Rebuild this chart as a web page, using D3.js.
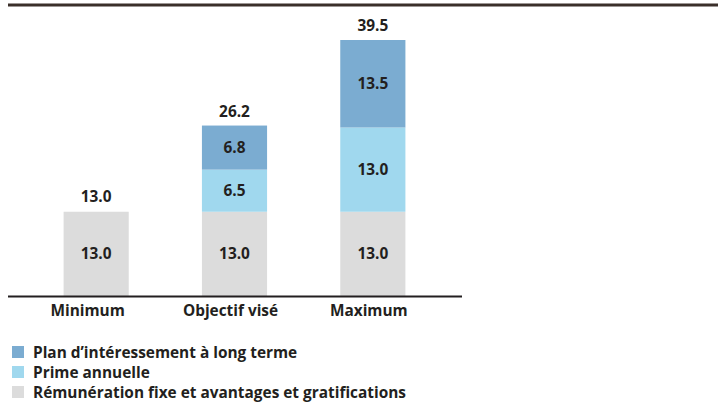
<!DOCTYPE html>
<html>
<head>
<meta charset="utf-8">
<script src="https://cdn.jsdelivr.net/npm/d3@7"></script>
<style>
  body { margin: 0; background: #fff; }
  svg text { font-family: "Open Sans", "Noto Sans", sans-serif; font-weight: 700; fill: #231f20; }
</style>
</head>
<body>
<div id="chart"></div>
<script>
const categories = ["Minimum", "Objectif visé", "Maximum"];
const seriesNames = ["Rémunération fixe et avantages et gratifications", "Prime annuelle", "Plan d\u2019intéressement à long terme"];
const fixe = [13.0, 13.0, 13.0];
const prime = [0, 6.5, 13.0];
const plan = [0, 6.8, 13.5];
const totals = [13.0, 26.2, 39.5];
const colors = ["#dcdcdc", "#a0d8ee", "#7bacd1"];

const width = 718, height = 410;
const fs = "15.4px";
const svg = d3.select("#chart").append("svg")
    .attr("width", width)
    .attr("height", height);

const baseY = 296;
const x = d3.scaleBand().domain(categories).range([27, 442]).paddingInner(1 - 65 / 138).paddingOuter((138 - 65) / 2 / 138);
const y = d3.scaleLinear().domain([0, 39.5]).range([baseY, 40]);

// top rule
svg.append("line")
    .attr("x1", 8).attr("x2", width)
    .attr("y1", 5).attr("y2", 5)
    .attr("stroke", "#3a2f2a").attr("stroke-width", 3);

const rows = categories.map((c, i) => ({ cat: c, vals: [fixe[i], prime[i], plan[i]], total: totals[i] }));

rows.forEach(r => {
    let acc = 0;
    r.vals.forEach((v, k) => {
        if (v <= 0) return;
        const y0 = y(acc), y1 = y(acc + v);
        svg.append("rect")
            .attr("x", x(r.cat))
            .attr("width", x.bandwidth())
            .attr("y", y1)
            .attr("height", y0 - y1)
            .attr("fill", colors[k]);
        svg.append("text")
            .attr("x", x(r.cat) + x.bandwidth() / 2)
            .attr("y", (y0 + y1) / 2 + 5.5)
            .attr("text-anchor", "middle")
            .style("font-size", fs)
            .text(v.toFixed(1));
        acc += v;
    });
    svg.append("text")
        .attr("x", x(r.cat) + x.bandwidth() / 2)
        .attr("y", y(r.total) - 9.5)
        .attr("text-anchor", "middle")
        .style("font-size", fs)
        .text(r.total.toFixed(1));
});

// axis (labels sit slightly left of bar centres in the original)
const tickShift = [-8.5, -4, -4];
const xAxis = d3.axisBottom(x).tickSize(0).tickPadding(9);
const ax = svg.append("g")
    .attr("transform", `translate(0,${baseY})`)
    .call(xAxis);
ax.select(".domain").remove();
ax.selectAll("text")
    .style("font-size", fs)
    .attr("fill", "#231f20")
    .attr("dx", (d, i) => tickShift[i]);
svg.append("line")
    .attr("x1", 8).attr("x2", 462)
    .attr("y1", baseY + 0.5).attr("y2", baseY + 0.5)
    .attr("stroke", "#231f20").attr("stroke-width", 2);

// legend
const legendOrder = [2, 1, 0];
const lg = svg.append("g").attr("transform", "translate(12,346)");
legendOrder.forEach((k, i) => {
    lg.append("rect")
        .attr("x", 0).attr("y", i * 20)
        .attr("width", 12).attr("height", 12)
        .attr("fill", colors[k]);
    lg.append("text")
        .attr("x", 21).attr("y", i * 20 + 11.5)
        .style("font-size", fs)
        .text(seriesNames[k]);
});
</script>
</body>
</html>
